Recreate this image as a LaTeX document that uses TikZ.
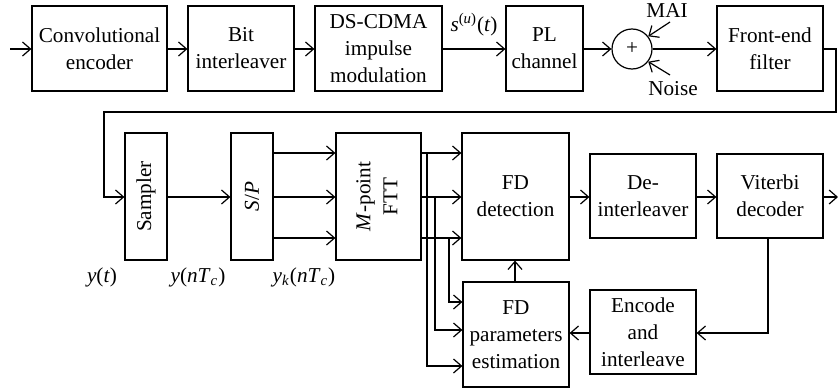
\documentclass[tikz,border=0pt]{standalone}
\usepackage{fontspec}
\setmainfont{Liberation Serif}
\usetikzlibrary{arrows.meta,calc}
\begin{document}
\begin{tikzpicture}[x=0.5pt,y=-0.5pt, line width=0.6pt,
  >={Straight Barb[length=4pt,width=7pt]},
  box/.style={draw, inner sep=0pt, align=center, font=\fontsize{10.6}{13.5}\selectfont},
  lbl/.style={inner sep=0pt, font=\fontsize{10.6}{13.5}\selectfont}]
\useasboundingbox (0,0) rectangle (838,391);
% top row
\node[box, minimum width=67.5pt, minimum height=42.5pt] (conv) at (99.5,48.5) {Convolutional\\encoder};
\node[box, minimum width=53pt, minimum height=42.5pt] (bit) at (241,48.5) {Bit\\interleaver};
\node[box, minimum width=63.5pt, minimum height=42.5pt] (ds) at (378.5,48.5) {DS-CDMA\\impulse\\modulation};
\node[box, minimum width=38.5pt, minimum height=42.5pt] (pl) at (544.5,48.5) {PL\\channel};
\node[circle, draw, minimum size=20pt, inner sep=0pt, font=\fontsize{10.6}{13.5}\selectfont] (sum) at (632,49) {+};
\node[box, minimum width=53pt, minimum height=42.5pt] (fe) at (770,48.5) {Front-end\\filter};
\coordinate (in) at (10,49);
\draw[->] (in) -- (conv.west |- in);
\draw[->] (conv.east |- in) -- (bit.west |- in);
\draw[->] (bit.east |- in) -- (ds.west |- in);
\draw[->] (ds.east |- in) -- (pl.west |- in);
\draw[->] (pl.east |- in) -- (sum.west);
\draw[->] (sum.east) -- (fe.west |- in);
\node[lbl] (su) at (474,25) {\textit{s}\textsuperscript{(\textit{u})}(\textit{t})};
\node[lbl] (mai) at (667,11) {MAI};
\node[lbl] (noise) at (673,89) {Noise};
\coordinate (maist) at (670,22);
\coordinate (noisest) at (670,75);
\draw[->] (maist) -- (sum.38);
\draw[->] (noisest) -- (sum.-38);
% second row
\node[box, minimum width=21pt, minimum height=63.5pt] (samp) at (146,196.5) {\rotatebox{90}{Sampler}};
\node[box, minimum width=21pt, minimum height=63.5pt] (sp) at (252,196.5) {\rotatebox{90}{\textit{S}/\textit{P}}};
\node[box, minimum width=42.5pt, minimum height=63.5pt] (fft) at (378.5,196.5) {\rotatebox{90}{\begin{tabular}{@{}c@{}}\textit{M}-point\\FTT\end{tabular}}};
\node[box, minimum width=53.5pt, minimum height=63.5pt] (fdd) at (515.5,196.5) {FD\\detection};
\node[box, minimum width=53pt, minimum height=42pt] (deint) at (643,196) {De-\\interleaver};
\node[box, minimum width=53pt, minimum height=42pt] (vit) at (770,196) {Viterbi\\decoder};
\node[box, minimum width=53pt, minimum height=52.5pt] (fdp) at (516,334.5) {FD\\parameters\\estimation};
\node[box, minimum width=53pt, minimum height=42pt] (enc) at (643,332) {Encode\\and\\interleave};
% wrap line
\coordinate (w1) at (836,112);
\coordinate (w2) at (104,112);
\coordinate (w3) at (104,197);
\coordinate (out) at (838,197);
\draw[->] (fe.east |- in) -| (w1) -- (w2) -- (w3) -- (samp.west |- w3);
\draw[->] (samp.east |- w3) -- (sp.west |- w3);
\foreach \yy in {153,197,238}{
  \draw[->] (sp.east |- 0,\yy) -- (fft.west |- 0,\yy);
  \draw[->] (fft.east |- 0,\yy) -- (fdd.west |- 0,\yy);
}
\draw[->] (427,153) |- (fdp.west |- 0,366);
\draw[->] (435,197) |- (fdp.west |- 0,330);
\draw[->] (449,238) |- (fdp.west |- 0,302);
\draw[->] (fdp.north -| 515,0) -- (fdd.south -| 515,0);
\draw[->] (fdd.east |- w3) -- (deint.west |- w3);
\draw[->] (deint.east |- w3) -- (vit.west |- w3);
\draw[->] (vit.east |- w3) -- (out);
\draw[->] (vit.south -| 768,0) |- (enc.east |- 0,333);
\draw[->] (enc.west |- 0,333) -- (fdp.east |- 0,333);
\node[lbl] (yt) at (102,277) {\textit{y}(\textit{t})};
\node[lbl] (ynt) at (198,277) {\textit{y}(\textit{nT}\textsubscript{\textit{c}})};
\node[lbl] (yknt) at (304,277) {\textit{y}\textsubscript{\textit{k}}(\textit{nT}\textsubscript{\textit{c}})};
\end{tikzpicture}
\end{document}
